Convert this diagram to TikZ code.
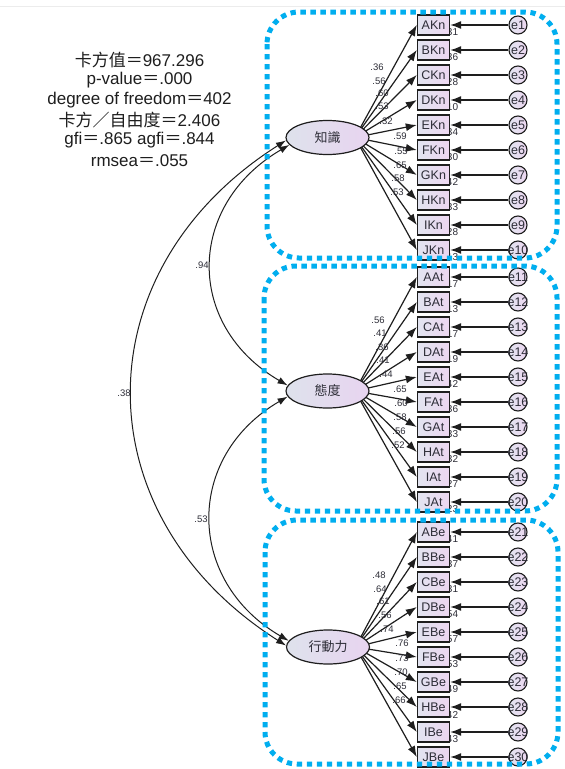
\documentclass[tikz,border=0pt]{standalone}
\usepackage{fontspec}
\setmainfont{Liberation Sans}
\newfontfamily\cjk{Noto Sans CJK TC}
\usetikzlibrary{arrows.meta,shapes.geometric}

\definecolor{framecyan}{RGB}{0,174,239}
\definecolor{ink}{RGB}{30,30,30}
\definecolor{labelink}{RGB}{45,45,55}
\definecolor{boxL}{RGB}{226,228,240}
\definecolor{boxR}{RGB}{236,214,240}
\definecolor{latL}{RGB}{222,226,236}
\definecolor{latR}{RGB}{232,212,240}

\tikzset{
  obs/.style={draw=ink, line width=1.4pt, left color=boxL, right color=boxR,
    minimum width=32pt, minimum height=20pt, inner sep=0pt,
    font=\fontsize{12.5}{13}\selectfont, text=labelink},
  err/.style={circle, draw=ink, line width=1.1pt, left color=boxL, right color=boxR,
    minimum size=18pt, inner sep=0pt, font=\fontsize{12.5}{13}\selectfont, text=labelink},
  lat/.style={ellipse, draw=ink, line width=1.2pt, left color=latL, right color=latR,
    minimum width=83pt, minimum height=34pt, inner sep=0pt,
    font=\cjk\fontsize{13}{14}\selectfont, text=labelink},
  regpath/.style={draw=ink, line width=1.2pt, -{Latex[length=11pt,width=8pt]}},
  covpath/.style={draw=ink, line width=1pt,
    {Latex[length=10pt,width=7pt]}-{Latex[length=10pt,width=7pt]}},
  loadlbl/.style={font=\fontsize{9.5}{10}\selectfont, inner sep=0pt, text=labelink},
  smc/.style={font=\fontsize{10}{10}\selectfont, inner sep=0pt, anchor=west, text=labelink},
  stat/.style={font=\fontsize{17}{20}\selectfont, inner sep=0pt, text=ink},
  groupframe/.style={draw=framecyan, line width=5pt, dash pattern=on 5.3pt off 4.7pt,
    rounded corners=32pt},
}

% ten indicators of one factor, with their errors and squared multiple correlations;
% the loading paths start at the factor's focus point #1f (the ellipse is drawn over it later)
% #1 factor name, #2 y of first indicator, #3 indicator suffix, #4 error index offset, #5 SMC values
\newcommand\indicatorgroup[5]{%
  \foreach \v [count=\i] in {#5} {
    \node[smc] (#1s\i) at (444, #2+25*\i-25+7.5) {\v};
  }
  \foreach \L [count=\i] in {A,B,C,D,E,F,G,H,I,J} {
    \pgfmathtruncatemacro\en{\i+#4}
    \node[obs] (#1\i) at (433.5, #2+25*\i-25) {\L#3};
    \node[err] (#1e\i) at (518, #2+25*\i-25) {\makebox[0pt]{e\en}};
    \draw[regpath] (#1e\i) -- (#1\i.east);
    \draw[regpath] (#1f) -- (#1\i.west);
  }
}

\begin{document}
\begin{tikzpicture}[x=1pt,y=-1pt]
\useasboundingbox (0,0) rectangle (565,769);
\fill[white] (0,0) rectangle (565,769);
\draw[gray!15, line width=0.8pt] (0,6) -- (565,6);

% fit statistics
\node[stat] (s1) at (139.5,60.5) {{\cjk 卡方值＝}967.296};
\node[stat] (s2) at (139.5,80.5) {p-value{\cjk ＝}.000};
\node[stat] (s3) at (139.5,100.5) {degree of freedom{\cjk ＝}402};
\node[stat] (s4) at (139.5,120.5) {{\cjk 卡方／自由度＝}2.406};
\node[stat] (s5) at (139.5,140.5) {gfi{\cjk ＝}.865 agfi{\cjk ＝}.844};
\node[stat] (s6) at (139.5,160.5) {rmsea{\cjk ＝}.055};

% focus points of the loading fans
\coordinate (Kf) at (355,137.5);
\coordinate (Tf) at (355,391);
\coordinate (Bf) at (355.5,647);

\indicatorgroup{K}{25}{Kn}{0}{.31,.36,.28,.10,.34,.30,.42,.33,.28,.13}
\indicatorgroup{T}{277}{At}{10}{.17,.13,.17,.19,.42,.36,.33,.32,.27,.23}
\indicatorgroup{B}{532}{Be}{20}{.41,.37,.31,.54,.57,.53,.49,.42,.43}

% latent factors
\node[lat] (K) at (327.5,137.5) {知識};
\node[lat] (T) at (327.5,391) {態度};
\node[lat] (B) at (328,647) {行動力};

% standardized loadings
\foreach \v/\px/\py [count=\i] in {.36/377/67,.56/379/81,.60/382/93,.53/382/106,.32/386/121,
    .59/400/136,.55/401/151,.65/400/165,.58/398/178,.53/397/192} {
  \node[loadlbl] (Kl\i) at (\px,\py) {\v};
}
\foreach \v/\px/\py [count=\i] in {.56/378/320,.41/380/333,.36/382/347,.41/383/360,.44/386/374,
    .65/400/389,.60/401/403,.58/400/417,.56/399/431,.52/398/445} {
  \node[loadlbl] (Tl\i) at (\px,\py) {\v};
}
\foreach \v/\px/\py [count=\i] in {.48/379/575,.64/380/589,.61/383/601,.56/385/615,.74/387/629,
    .76/402/643,.73/402/658,.70/401/672,.65/400/686,.66/399/700} {
  \node[loadlbl] (Bl\i) at (\px,\py) {\v};
}

% factor correlations
\draw[covpath] (K.191) .. controls +(-103,60) and +(-103,-60) .. (T.172);
\draw[covpath] (T.188) .. controls +(-103,60) and +(-103,-60) .. (B.171);
\draw[covpath] (K.184) .. controls +(-205,130) and +(-205,-130) .. (B.178);
\node[loadlbl] (c1) at (202,265) {.94};
\node[loadlbl] (c2) at (201,519) {.53};
\node[loadlbl] (c3) at (124,393) {.38};

% dotted group frames
\draw[groupframe] (267,12) rectangle (557,258);
\draw[groupframe] (264,266) rectangle (557,511);
\draw[groupframe] (265,520) rectangle (558,764);
\end{tikzpicture}
\end{document}
